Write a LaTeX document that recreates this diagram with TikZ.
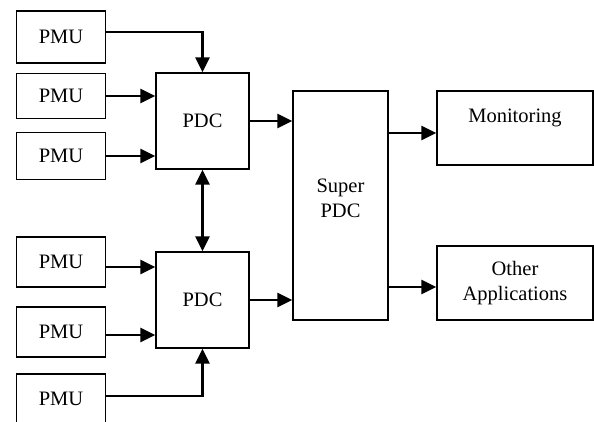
\documentclass[tikz,border=0pt]{standalone}
\usepackage{fontspec}
\setmainfont{Liberation Serif}
\usetikzlibrary{arrows.meta,positioning,calc}

\begin{document}
\begin{tikzpicture}[
    x=1pt, y=-1pt,
    every node/.style={align=center, font=\fontsize{20.5}{25}\selectfont},
    unit/.style={rectangle, draw, line width=1.3pt, minimum width=89pt, minimum height=48pt, inner sep=0pt},
    pdcbox/.style={rectangle, draw, line width=1.3pt, minimum width=93pt, minimum height=96pt, inner sep=0pt},
    appbox/.style={rectangle, draw, line width=1.3pt, minimum width=156pt, minimum height=74pt, inner sep=0pt},
    arrow/.style={line width=2.4pt, -{Triangle[length=15pt,width=14pt]}},
    twoway/.style={line width=2.4pt, {Triangle[length=15pt,width=14pt]}-{Triangle[length=15pt,width=14pt]}}
]
\clip (0,0) rectangle (594,421);

% PMU units
\node[unit, minimum height=52pt] (pmu_a) at (61,37) {PMU};
\node[unit, minimum height=45pt] (pmu_b) at (61,96) {PMU};
\node[unit, minimum height=47pt] (pmu_c) at (61,156) {PMU};
\node[unit, minimum height=50pt] (pmu_d) at (61,262) {PMU};
\node[unit, minimum height=50pt] (pmu_e) at (61,332) {PMU};
\node[unit, minimum height=50pt] (pmu_f) at (61,399) {PMU};

% Concentrators
\node[pdcbox] (pdc_top) at (202.5,121) {PDC};
\node[pdcbox] (pdc_bottom) at (202.5,300) {PDC};
\node[rectangle, draw, line width=1.3pt, minimum width=95pt, minimum height=229pt, inner sep=0pt] (super_pdc) at (340.5,205.5) {Super\\PDC\\[-10pt]\mbox{}};

% Applications
\node[appbox] (app_monitoring) at (515,128) {Monitoring\\\mbox{}};
\node[appbox] (app_other) at (515,283) {Other\\Applications};

% Connections
\draw[arrow] ([yshift=5pt]pmu_a.east) -| (pdc_top.north);
\draw[arrow] (pmu_b.east) -- (pmu_b.east -| pdc_top.west);
\draw[arrow] (pmu_c.east) -- (pmu_c.east -| pdc_top.west);
\draw[arrow] ([yshift=-5pt]pmu_d.east) -- ([yshift=-5pt]pmu_d.east -| pdc_bottom.west);
\draw[arrow] ([yshift=-3pt]pmu_e.east) -- ([yshift=-3pt]pmu_e.east -| pdc_bottom.west);
\draw[arrow] ([yshift=3pt]pmu_f.east) -| (pdc_bottom.south);
\draw[twoway] (pdc_top.south) -- (pdc_bottom.north);
\draw[arrow] (pdc_top.east) -- (pdc_top.east -| super_pdc.west);
\draw[arrow] (pdc_bottom.east) -- (pdc_bottom.east -| super_pdc.west);
\draw[arrow] ([yshift=-5pt]app_monitoring.west -| super_pdc.east) -- ([yshift=-5pt]app_monitoring.west);
\draw[arrow] ([yshift=-4pt]app_other.west -| super_pdc.east) -- ([yshift=-4pt]app_other.west);

\end{tikzpicture}
\end{document}
